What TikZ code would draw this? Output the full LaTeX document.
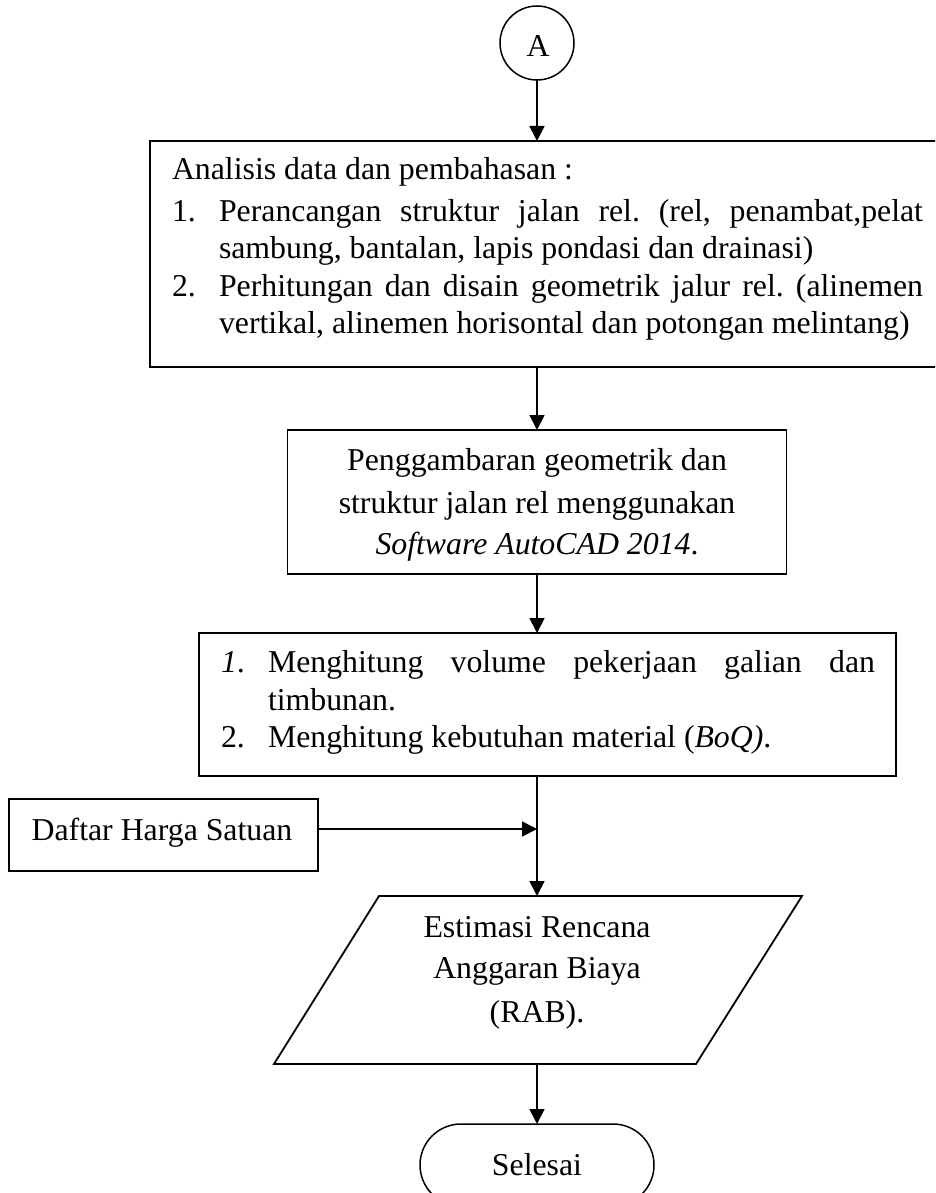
\documentclass[tikz,border=0pt]{standalone}
\usepackage{fontspec}
\setmainfont{Liberation Serif}
\usetikzlibrary{arrows.meta,shapes.misc}
\frenchspacing
\begin{document}
\begin{tikzpicture}[x=1pt,y=-1pt,
  every node/.style={font=\fontsize{31.8pt}{38pt}\selectfont},
  box/.style={draw, line width=1.8pt, rectangle, inner sep=0pt, outer sep=0pt},
  txt/.style={anchor=base west, inner sep=0pt, outer sep=0pt},
  ctxt/.style={anchor=base, inner sep=0pt, outer sep=0pt},
  arr/.style={line width=1.8pt, -{Triangle[width=15pt,length=15pt]}},
  ln/.style={line width=1.8pt}]
\useasboundingbox (0,0) rectangle (935,1193);
\clip (0,0) rectangle (935,1193);

% shapes
\node[draw, circle, line width=1.5pt, minimum size=74pt, inner sep=0pt, outer sep=0pt] (A) at (537,43) {};
\node[ctxt] (tA) at (538,57) {A};
\node[box, minimum width=800pt, minimum height=226pt] (b1) at (550,254) {};
\node[box, minimum width=499pt, minimum height=144pt] (b2) at (537,502) {};
\node[box, minimum width=697pt, minimum height=143pt] (b3) at (547.5,704.5) {};
\node[box, minimum width=309pt, minimum height=72pt] (daftar) at (163.5,835) {};
\node[inner sep=0pt, outer sep=0pt, minimum width=300pt, minimum height=168pt] (rab) at (537,980) {};
\draw[ln, line join=miter] (379,896) -- (802,896) -- (696,1064) -- (274,1064) -- cycle;
\node[draw, rounded rectangle, line width=1.5pt, minimum width=234pt, minimum height=82pt, inner sep=0pt, outer sep=0pt] (sel) at (537,1165) {};

% texts box 1
\node[txt] (t10) at (172,180) {Analisis data dan pembahasan :};
\node[txt] (n11) at (172,221) {1.};
\node[txt] (t11) at (219,221) {\makebox[704pt][s]{Perancangan struktur jalan rel. (rel, penambat,pelat}};
\node[txt] (t12) at (219,258) {sambung, bantalan, lapis pondasi dan drainasi)};
\node[txt] (n13) at (172,296) {2.};
\node[txt] (t13) at (219,296) {\makebox[704pt][s]{Perhitungan dan disain geometrik jalur rel. (alinemen}};
\node[txt] (t14) at (219,333) {vertikal, alinemen horisontal dan potongan melintang)};

% texts box 2
\node[ctxt] (t21) at (537,470) {Penggambaran geometrik dan};
\node[ctxt] (t22) at (537,513) {struktur jalan rel menggunakan};
\node[ctxt] (t23) at (537,554) {\textit{Software AutoCAD 2014}.};

% texts box 3
\node[txt] (n31) at (221,672) {\textit{1}.};
\node[txt] (t31) at (268,672) {\makebox[607pt][s]{Menghitung volume pekerjaan galian dan}};
\node[txt] (t32) at (268,710) {timbunan.};
\node[txt] (n33) at (221,747) {2.};
\node[txt] (t33) at (268,747) {Menghitung kebutuhan material (\textit{BoQ)}.};

% daftar
\node[ctxt] (td) at (162,840) {Daftar Harga Satuan};

% parallelogram text
\node[ctxt] (tr1) at (537,937) {Estimasi Rencana};
\node[ctxt] (tr2) at (537,978) {Anggaran Biaya};
\node[ctxt] (tr3) at (537,1022) {(RAB).};

% selesai
\node[ctxt] (ts) at (537,1175) {Selesai};

% connectors
\draw[arr] (A.south) -- (A.south |- b1.north);
\draw[arr] (A.south |- b1.south) -- (b2.north);
\draw[arr] (b2.south) -- (b2.south |- b3.north);
\draw[arr] (b2.south |- b3.south) -- (rab.north);
\draw[arr] ([yshift=6pt]daftar.east) -- ([yshift=6pt]daftar.east -| rab.north);
\draw[arr] (rab.south) -- (sel.north);
\end{tikzpicture}
\end{document}
